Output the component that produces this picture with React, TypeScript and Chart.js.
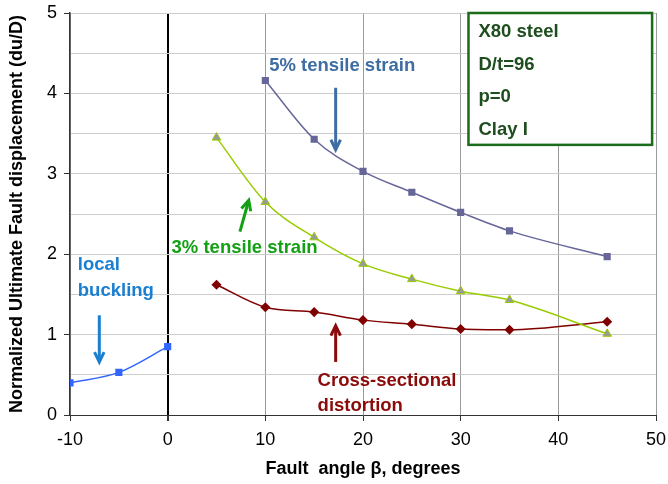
import React, { useEffect, useRef } from "react";
import { Chart, registerables } from "chart.js";

Chart.register(...registerables);

const localX = [-10, -5, 0];
const localY = [0.4, 0.53, 0.85];
const t5X = [10, 15, 20, 25, 30, 35, 45];
const t5Y = [4.16, 3.43, 3.03, 2.77, 2.52, 2.29, 1.97];
const t3X = [5, 10, 15, 20, 25, 30, 35, 45];
const t3Y = [3.45, 2.65, 2.21, 1.88, 1.69, 1.54, 1.43, 1.01];
const csX = [5, 10, 15, 20, 25, 30, 35, 45];
const csY = [1.62, 1.34, 1.28, 1.18, 1.13, 1.07, 1.06, 1.16];
const xTicks = [-10, 0, 10, 20, 30, 40, 50];
const yTicks = [0, 1, 2, 3, 4, 5];
const boxLines = ["X80 steel", "D/t=96", "p=0", "Clay I"];

const FONT = "'Liberation Sans', Arial, sans-serif";

const pts = (xs: number[], ys: number[]) => xs.map((x, i) => ({ x, y: ys[i] }));

const annotationPlugin = {
  id: "annotations",
  afterDraw(chart: any) {
    const { ctx } = chart;
    const xs = chart.scales.x;
    const ys = chart.scales.y;
    const X = (v: number) => xs.getPixelForValue(v);
    const Y = (v: number) => ys.getPixelForValue(v);
    ctx.save();
    ctx.textBaseline = "middle";
    ctx.textAlign = "left";
    const text = (s: string, x: number, y: number, c: string, size = 18.5) => {
      ctx.font = `bold ${size}px ${FONT}`;
      ctx.fillStyle = c;
      ctx.fillText(s, X(x), Y(y));
    };
    const arrow = (x1: number, y1: number, x2: number, y2: number, c: string) => {
      const ax = X(x1), ay = Y(y1), bx = X(x2), by = Y(y2);
      const ang = Math.atan2(by - ay, bx - ax);
      ctx.strokeStyle = c;
      ctx.lineWidth = 3;
      ctx.lineCap = "butt";
      ctx.beginPath();
      ctx.moveTo(ax, ay);
      ctx.lineTo(bx - 2 * Math.cos(ang), by - 2 * Math.sin(ang));
      ctx.stroke();
      const h = 11;
      ctx.beginPath();
      ctx.moveTo(bx - h * Math.cos(ang - 0.45), by - h * Math.sin(ang - 0.45));
      ctx.lineTo(bx, by);
      ctx.lineTo(bx - h * Math.cos(ang + 0.45), by - h * Math.sin(ang + 0.45));
      ctx.stroke();
    };
    text("5% tensile strain", 10.4, 4.34, "#3e6da4");
    arrow(17.2, 4.07, 17.2, 3.3, "#3e6da4");
    text("3% tensile strain", 0.4, 2.08, "#14a014");
    arrow(7.4, 2.28, 8.3, 2.67, "#14a014");
    text("local", -9.2, 1.87, "#1a7fd0");
    text("buckling", -9.2, 1.54, "#1a7fd0");
    arrow(-7.0, 1.24, -7.0, 0.66, "#1a7fd0");
    text("Cross-sectional", 15.35, 0.42, "#8b0a0a");
    text("distortion", 15.35, 0.11, "#8b0a0a");
    arrow(17.2, 0.66, 17.2, 1.11, "#8b0a0a");

    // info box
    const bx1 = X(30.8), bx2 = X(49.6), by1 = Y(5.0), by2 = Y(3.36);
    ctx.fillStyle = "#ffffff";
    ctx.fillRect(bx1, by1, bx2 - bx1, by2 - by1);
    ctx.strokeStyle = "#1a6b1a";
    ctx.lineWidth = 2.5;
    ctx.strokeRect(bx1, by1, bx2 - bx1, by2 - by1);
    ctx.fillStyle = "#1e4d1e";
    ctx.font = `bold 18.5px ${FONT}`;
    boxLines.forEach((s, i) => {
      ctx.fillText(s, bx1 + 10, by1 + 19 + i * 32.5);
    });
    ctx.restore();
  },
};

export default function App() {
  const ref = useRef<HTMLCanvasElement>(null);
  useEffect(() => {
    if (!ref.current) return;
    const chart = new Chart(ref.current, {
      type: "scatter",
      data: {
        datasets: [
          {
            label: "local buckling",
            data: pts(localX, localY),
            showLine: true,
            borderColor: "#3366ff",
            backgroundColor: "#3366ff",
            borderWidth: 1.5,
            pointStyle: "rect",
            pointRadius: 4,
            cubicInterpolationMode: "monotone",
          },
          {
            label: "5% tensile strain",
            data: pts(t5X, t5Y),
            showLine: true,
            borderColor: "#666699",
            backgroundColor: "#666699",
            borderWidth: 1.5,
            pointStyle: "rect",
            pointRadius: 4,
            cubicInterpolationMode: "monotone",
          },
          {
            label: "3% tensile strain",
            data: pts(t3X, t3Y),
            showLine: true,
            borderColor: "#99cc00",
            backgroundColor: "#999999",
            pointBorderColor: "#99cc00",
            pointBorderWidth: 1,
            borderWidth: 1.5,
            pointStyle: "triangle",
            pointRadius: 5,
            cubicInterpolationMode: "monotone",
          },
          {
            label: "Cross-sectional distortion",
            data: pts(csX, csY),
            showLine: true,
            borderColor: "#800000",
            backgroundColor: "#800000",
            borderWidth: 1.5,
            pointStyle: "rectRot",
            pointRadius: 4,
            cubicInterpolationMode: "monotone",
          },
        ],
      },
      options: {
        animation: false,
        responsive: false,
        layout: { padding: { top: 13, right: 12, left: 0, bottom: 0 } },
        plugins: { legend: { display: false }, tooltip: { enabled: false } },
        scales: {
          x: {
            type: "linear",
            min: -10,
            max: 50,
            afterBuildTicks: (s: any) => {
              s.ticks = xTicks.map((v) => ({ value: v }));
            },
            afterFit: (s: any) => {
              s.height = 69;
              s.paddingLeft = 0;
              s.paddingRight = 0;
            },
            ticks: {
              color: "#000",
              font: { family: FONT, size: 18 },
              padding: 8,
            },
            grid: {
              color: (c: any) =>
                c.tick && c.tick.value === 0 ? "#000000" : "#9a9a9a",
              lineWidth: (c: any) => (c.tick && c.tick.value === 0 ? 2 : 1),
              tickColor: "#333",
              tickLength: 6,
            },
            border: { color: "#333", width: 1 },
            title: {
              display: true,
              text: "Fault  angle β, degrees",
              color: "#000",
              font: { family: FONT, size: 18, weight: "bold" },
              padding: { top: 4, bottom: 4 },
            },
          },
          y: {
            type: "linear",
            min: 0,
            max: 5,
            afterFit: (s: any) => {
              s.width = 70;
              s.paddingTop = 0;
              s.paddingBottom = 0;
            },
            ticks: {
              stepSize: 0.5,
              color: "#000",
              font: { family: FONT, size: 18 },
              padding: 7,
              callback: (v: any) => (yTicks.includes(v) ? String(v) : ""),
            },
            grid: {
              color: "#cccccc",
              lineWidth: 1,
              tickLength: 6,
              tickColor: (c: any) =>
                c.tick && yTicks.includes(c.tick.value) ? "#333" : "rgba(0,0,0,0)",
            },
            border: { color: "#333", width: 1.5 },
            title: {
              display: true,
              text: "Normalized Ultimate Fault displacement (du/D)",
              color: "#000",
              font: { family: FONT, size: 18, weight: "bold" },
              padding: { top: 6, bottom: 4 },
            },
          },
        },
      },
      plugins: [annotationPlugin],
    } as any);
    return () => chart.destroy();
  }, []);
  return (
    <div style={{ position: "absolute", left: 0, top: 0, width: 668, height: 484, background: "#fff" }}>
      <canvas ref={ref} width={668} height={484} />
    </div>
  );
}
